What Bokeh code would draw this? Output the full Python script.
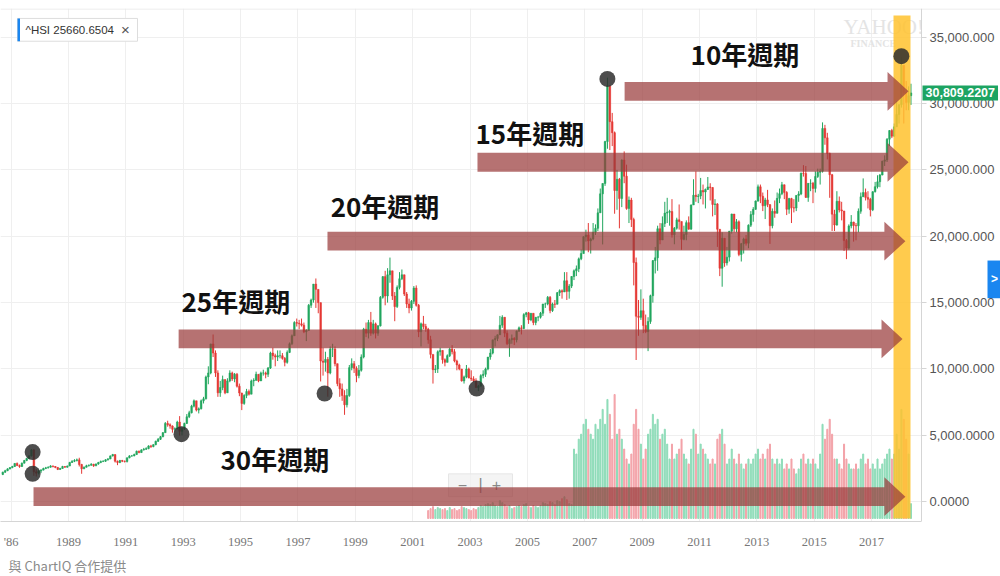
from bokeh.plotting import figure
from bokeh.models import Range1d, FixedTicker, Label, Title, ColumnDataSource
from bokeh.core.properties import value
from bokeh.embed import file_html
from bokeh.resources import INLINE

# ---------------- data (monthly Hang Seng Index) ----------------
first_year, first_month = 1986, 9
first_open = 2050
close = [
    2220, 2330, 2470, 2568,                                                   # 1986 Sep-Dec
    2650, 2880, 2720, 2650, 2900, 3100, 3250, 3450, 3900, 2250, 2150, 2302,   # 1987
    2380, 2500, 2550, 2600, 2690, 2650, 2580, 2430, 2500, 2650, 2600, 2687,   # 1988
    2950, 3050, 3100, 3150, 2800, 2480, 2600, 2700, 2750, 2820, 2700, 2837,   # 1989
    2950, 3030, 3050, 3150, 3220, 3450, 3550, 3050, 2950, 3100, 3050, 3025,   # 1990
    3300, 3450, 3450, 3550, 3800, 3700, 3900, 3950, 4000, 4200, 4150, 4297,   # 1991
    4550, 4700, 4900, 5200, 5900, 5800, 5700, 5450, 5500, 6000, 5300, 5512,   # 1992
    5900, 6400, 6700, 7200, 7600, 6900, 7000, 7600, 7750, 9400, 9700, 11888,  # 1993
    11200, 9700, 8200, 8600, 9200, 8200, 9100, 9700, 9250, 9600, 8700, 8191,  # 1994
    7400, 8000, 8300, 8100, 9100, 9150, 9600, 9100, 9700, 9700, 9600, 10073,  # 1995
    11200, 11000, 10900, 11000, 11000, 10800, 10500, 11250, 11900, 12500, 13500, 13451,  # 1996
    13400, 13300, 12800, 12900, 14800, 15200, 16400, 16000, 15000, 10600, 10500, 10723,  # 1997
    9700, 11500, 11500, 10400, 8900, 8500, 8000, 7300, 8000, 10100, 10400, 10049,        # 1998
    9500, 9900, 10900, 13000, 12700, 13500, 12700, 13400, 12700, 13250, 15400, 16962,    # 1999
    15500, 17100, 17400, 15500, 14700, 16150, 16800, 17100, 15650, 14900, 14600, 15096,  # 2000
    16100, 14800, 12800, 13400, 13200, 13000, 12200, 11100, 9950, 10000, 11300, 11397,   # 2001
    10700, 10500, 11000, 11500, 11300, 10600, 10300, 10000, 9100, 9400, 10000, 9321,     # 2002
    9250, 9100, 8600, 8700, 9500, 9600, 10000, 10900, 11200, 12200, 12300, 12576,        # 2003
    13300, 13900, 12700, 11900, 12200, 12300, 12200, 12850, 13100, 13050, 14100, 14230,  # 2004
    13700, 14200, 13500, 13900, 13900, 14200, 14900, 14900, 15400, 14400, 14900, 14876,  # 2005
    15750, 15900, 15800, 16650, 15850, 16250, 16970, 17400, 17550, 18300, 18700, 19965,  # 2006
    20100, 19650, 19800, 20300, 20600, 21770, 23200, 23980, 27140, 31350, 28640, 27810,  # 2007
    23450, 24300, 22850, 25750, 24530, 22100, 22730, 21260, 18020, 13970, 13890, 14390,  # 2008
    13280, 12810, 13580, 15520, 18170, 18380, 20570, 19720, 20960, 21750, 21820, 21870,  # 2009
    20120, 20610, 21240, 21110, 19770, 20130, 21030, 20540, 22360, 23100, 23000, 23040,  # 2010
    23450, 23340, 23530, 23720, 23680, 22400, 22440, 20530, 17590, 19860, 17990, 18430,  # 2011
    20390, 21680, 20560, 21090, 18630, 19440, 19800, 19480, 20840, 21640, 22030, 22660,  # 2012
    23730, 23020, 22300, 22740, 22390, 20800, 21880, 21730, 22860, 23210, 23880, 23310,  # 2013
    22040, 22840, 22150, 22130, 23080, 23190, 24760, 24740, 22930, 23990, 23990, 23610,  # 2014
    24510, 24820, 24900, 28130, 27420, 26250, 24640, 21670, 20850, 22640, 21990, 21910,  # 2015
    19680, 19110, 20780, 21070, 20820, 20790, 21890, 22980, 23300, 22930, 22790, 22000,  # 2016
    23360, 23740, 24110, 24620, 25660, 25760, 27320, 27970, 27550, 28250, 29180, 29920,  # 2017
    32890, 30840, 30090, 30600, 30809,                                                   # 2018 Jan-May
]
high = [
    2260, 2400, 2520, 2600,
    2700, 2900, 2950, 2800, 2950, 3150, 3300, 3500, 3950, 3968, 2450, 2400,
    2450, 2560, 2620, 2660, 2750, 2720, 2680, 2600, 2550, 2700, 2680, 2720,
    3000, 3120, 3200, 3250, 3310, 2850, 2650, 2780, 2800, 2900, 2850, 2880,
    3000, 3100, 3120, 3200, 3280, 3480, 3600, 3560, 3100, 3150, 3150, 3100,
    3330, 3500, 3520, 3620, 3850, 3850, 3950, 4050, 4100, 4250, 4280, 4330,
    4600, 4800, 4950, 5250, 6000, 6100, 5900, 5750, 5600, 6100, 6447, 5650,
    5950, 6600, 6850, 7300, 7700, 7550, 7100, 7700, 7900, 9500, 10200, 11900,
    12600, 11400, 9900, 9100, 9500, 9200, 9300, 9900, 9800, 9700, 9700, 8900,
    8200, 8100, 8500, 8450, 9200, 9300, 9800, 9600, 9800, 9950, 9800, 10150,
    11300, 11600, 11150, 11400, 11400, 11200, 10900, 11400, 12000, 12600, 13600, 13800,
    13700, 13800, 13500, 13000, 14900, 15300, 16400, 16820, 15900, 15000, 11600, 11300,
    10900, 11700, 11900, 11700, 10400, 9300, 8900, 8400, 8500, 10300, 10800, 10600,
    10200, 10300, 11100, 13100, 13500, 13700, 14300, 13700, 13500, 13300, 15500, 17000,
    17400, 17600, 18397, 17400, 15800, 16300, 17300, 17500, 17100, 15800, 15300, 15200,
    16250, 16300, 14900, 13500, 14000, 13400, 13100, 12500, 11100, 10300, 11400, 11600,
    11400, 10800, 11100, 11600, 11800, 11500, 10700, 10400, 10000, 9500, 10300, 10100,
    9900, 9450, 9300, 8800, 9600, 9900, 10100, 10900, 11500, 12200, 12500, 12600,
    14000, 14050, 13900, 12900, 12300, 12600, 12400, 12900, 13200, 13300, 14200, 14300,
    14300, 14200, 14100, 13900, 14000, 14300, 14900, 15000, 15500, 15500, 15000, 15200,
    15800, 16000, 16000, 17300, 17300, 16400, 17000, 17500, 17800, 18400, 19000, 20000,
    20500, 21000, 19900, 21000, 20900, 22100, 23600, 24000, 27200, 31958, 30100, 29300,
    27900, 25000, 24400, 25800, 26400, 25400, 23000, 22900, 21400, 18400, 15200, 16000,
    15300, 14100, 13900, 15600, 18200, 19200, 20800, 21000, 21500, 22600, 22900, 22000,
    22800, 20700, 21400, 22400, 21100, 20800, 21200, 21500, 22400, 24300, 24900, 23200,
    24400, 23900, 23600, 24468, 24000, 23700, 22800, 22500, 20300, 20300, 19800, 19200,
    20400, 21700, 21500, 21300, 21200, 19500, 19900, 20100, 20900, 21900, 22200, 22700,
    23900, 23900, 23300, 22900, 23500, 22400, 22100, 22700, 23300, 23600, 24100, 23900,
    23400, 22900, 22900, 22800, 23100, 23400, 24800, 25363, 25300, 24000, 24300, 24100,
    24900, 25100, 25100, 28588, 28400, 27800, 26300, 24700, 22000, 23400, 23000, 22600,
    21900, 19800, 20900, 21600, 21100, 21000, 22100, 23300, 24364, 23600, 23400, 22900,
    23400, 24100, 24600, 24700, 25700, 26100, 27400, 28000, 28100, 28500, 30199, 29950,
    33484, 32600, 31700, 31300, 31500,
]
low = [
    2000, 2170, 2300, 2430,
    2520, 2620, 2680, 2550, 2620, 2880, 3050, 3200, 3400, 1950, 1894, 2050,
    2150, 2350, 2450, 2500, 2560, 2580, 2520, 2380, 2400, 2480, 2550, 2560,
    2680, 2920, 2980, 3030, 2650, 2100, 2450, 2570, 2650, 2700, 2620, 2680,
    2780, 2900, 2980, 3000, 3100, 3200, 3400, 2950, 2750, 2900, 2980, 2950,
    2950, 3270, 3380, 3420, 3530, 3650, 3680, 3850, 3900, 3950, 4050, 4100,
    4250, 4500, 4650, 4850, 5200, 5650, 5500, 5200, 5300, 5450, 4978, 5000,
    5400, 5850, 6300, 6650, 7100, 6800, 6650, 6950, 7400, 7700, 8850, 9600,
    10900, 9400, 7900, 7900, 8400, 8100, 8200, 9000, 9100, 9000, 8600, 7950,
    6900, 7300, 7800, 8000, 8100, 8700, 9100, 9000, 9100, 9500, 9300, 9400,
    10000, 10700, 10200, 10600, 10800, 10700, 10200, 10400, 11200, 11800, 12500, 13200,
    13000, 13200, 12700, 12100, 12900, 14600, 15000, 14600, 14200, 9059, 9500, 9800,
    7909, 9600, 10900, 10200, 8700, 7900, 7600, 6544, 7100, 7900, 9900, 9700,
    9000, 9300, 9800, 10800, 12400, 12300, 12500, 12600, 12300, 12500, 13200, 15300,
    14800, 15000, 16500, 15200, 13600, 14600, 16000, 16700, 15500, 14600, 14200, 14400,
    14900, 14700, 12400, 11700, 13000, 12800, 11900, 10800, 8900, 9700, 9700, 11000,
    10400, 10200, 10500, 10900, 11100, 10500, 9900, 9900, 9050, 8900, 9300, 9300,
    9100, 9000, 8600, 8331, 8700, 9300, 9400, 9900, 10700, 11100, 11700, 12100,
    12600, 13100, 12400, 11800, 10917, 11900, 11800, 12000, 12800, 12600, 13000, 13900,
    13400, 13600, 13300, 13300, 13600, 13800, 14000, 14600, 14800, 14200, 14300, 14600,
    14900, 15500, 15300, 15800, 15200, 15300, 16100, 16700, 17000, 17300, 18200, 18700,
    19600, 18800, 18700, 19700, 20100, 20400, 21800, 19386, 23800, 26600, 26500, 26800,
    21700, 22000, 20600, 22200, 24000, 22000, 21000, 20700, 16300, 10676, 12500, 13700,
    12700, 12700, 11345, 13400, 15000, 17200, 17400, 19400, 20000, 20700, 21000, 20800,
    19900, 19400, 20500, 20500, 18985, 19700, 19700, 20500, 20500, 22500, 22600, 22500,
    22800, 22400, 22100, 23500, 22700, 21500, 21600, 19200, 16999, 16200, 17700, 17800,
    18100, 20200, 20300, 20300, 18500, 18100, 18700, 19300, 19100, 20700, 21100, 22000,
    22600, 22500, 21900, 21300, 22200, 19426, 20600, 21400, 21800, 22500, 23100, 22800,
    21600, 21700, 21000, 21800, 21900, 22600, 23100, 24500, 22900, 22600, 23400, 22500,
    23300, 24400, 23900, 24800, 26900, 25800, 22900, 20400, 20400, 20800, 21800, 21200,
    18900, 18278, 19000, 20600, 19600, 19700, 20300, 21700, 23000, 22700, 22100, 21500,
    21900, 23300, 23600, 23700, 24600, 25300, 25600, 26800, 27400, 27500, 28400, 28500,
    29700, 28500, 29500, 29500, 29900,
]
# monthly volume (relative units), from Jul 2001
volume_first_year, volume_first_month = 2001, 7
volume = [
    8, 10, 12, 9, 11, 10,                                   # 2001 Jul-Dec
    9, 10, 8, 11, 9, 10, 8, 9, 12, 11, 10, 9,               # 2002
    8, 10, 9, 11, 13, 12, 14, 15, 14, 16, 13, 12,           # 2003
    18, 16, 14, 12, 13, 10, 11, 12, 13, 12, 14, 15,         # 2004
    12, 11, 13, 12, 11, 13, 16, 15, 14, 17, 16, 14,         # 2005
    18, 17, 20, 22, 19, 15, 14, 70, 65, 80, 85, 95,         # 2006
    100, 90, 85, 80, 95, 90, 100, 110, 95, 120, 105, 80,    # 2007
    125, 85, 90, 80, 70, 60, 55, 65, 95, 110, 90, 75,       # 2008
    60, 70, 85, 90, 105, 95, 100, 80, 85, 90, 75, 60,       # 2009
    75, 60, 65, 70, 80, 65, 60, 55, 70, 90, 85, 65,         # 2010
    75, 70, 65, 60, 55, 60, 55, 80, 85, 90, 75, 55,         # 2011
    60, 70, 60, 55, 65, 55, 50, 55, 60, 55, 60, 65,         # 2012
    70, 60, 65, 60, 70, 75, 60, 55, 60, 55, 60, 50,         # 2013
    55, 50, 60, 50, 45, 50, 60, 65, 55, 60, 55, 60,         # 2014
    55, 50, 65, 95, 80, 90, 100, 85, 60, 60, 55, 50,        # 2015
    75, 60, 55, 50, 50, 55, 50, 60, 65, 55, 60, 50,         # 2016
    55, 50, 60, 50, 55, 60, 65, 70, 60, 65, 85, 70,         # 2017
    110, 100, 80, 65, 15,                                   # 2018 Jan-May
]
year_ticks = [1987, 1989, 1991, 1993, 1995, 1997, 1999, 2001, 2003, 2005, 2007, 2009, 2011, 2013, 2015, 2017]
year_tick_labels = ["'86"] + [str(y) for y in year_ticks[1:]]
price_ticks = [0, 5000, 10000, 15000, 20000, 25000, 30000, 35000]
price_tick_labels = ["0.0000", "5,000.0000", "10,000.000", "15,000.000", "20,000.000",
                     "25,000.000", "30,000.000", "35,000.000"]

# annotations
cycle_labels = ["10年週期", "15年週期", "20年週期", "25年週期", "30年週期"]
cycle_start = [2008.39, 2003.26, 1998.03, 1992.84, 1987.78]
cycle_tip = [2018.29, 2018.29, 2018.18, 2018.08, 2018.18]
cycle_level = [30925, 25578, 19632, 12265, 374]
cycle_text_x = [2010.69, 2003.19, 1998.14, 1992.94, 1994.30]
cycle_text_y = [33804, 27821, 22287, 15182, 3216]
turn_x = [1987.75, 1987.75, 1992.94, 1997.93, 2003.23, 2007.79, 2018.04]
turn_y = [3739, 2094, 5086, 8152, 8526, 31860, 33580]
last_price = 30809.2207

assert len(close) == len(high) == len(low)

# ---------------- derived ----------------
def month_axis(y, m, n):
    out = []
    for _ in range(n):
        out.append(y + (m - 0.5) / 12.0)
        m += 1
        if m > 12:
            m = 1
            y += 1
    return out

xs = month_axis(first_year, first_month, len(close))
opens = [first_open] + close[:-1]
UP, DOWN = "#22a65e", "#e53935"
VUP, VDOWN = "#8fdcb9", "#f3a3a9"
col = [UP if c >= o else DOWN for c, o in zip(close, opens)]
src = ColumnDataSource(dict(
    x=xs, top=[max(o, c) for o, c in zip(opens, close)],
    bottom=[min(o, c) for o, c in zip(opens, close)],
    hi=[max(h, o, c) for h, o, c in zip(high, opens, close)],
    lo=[min(l, o, c) for l, o, c in zip(low, opens, close)],
    color=col))

vx = month_axis(volume_first_year, volume_first_month, len(volume))
off = xs.index(min(xs, key=lambda t: abs(t - vx[0])))
vcol = [VUP if col[off + i] == UP else VDOWN for i in range(len(volume))]
vsrc = ColumnDataSource(dict(x=vx, top=volume, color=vcol))

# pixel scale helpers (for shape sizes / decoration placement only)
PX_X = 28.68        # px per year
PX_Y = 0.013371     # px per index point
Y_ZERO = 505.0

def px_x(px):
    return 1989 + (px - 68) / PX_X

def px_y(py):
    return (Y_ZERO - py) / PX_Y

X0, X1 = px_x(0), px_x(1000)
X_AXIS = px_x(921)
Y0, Y1 = px_y(525), px_y(8)

p = figure(width=1000, height=576, x_range=Range1d(X0, X1), y_range=Range1d(Y0, Y1),
           output_backend="svg", toolbar_location=None, y_axis_location="right",
           min_border_left=0, min_border_right=0, min_border_top=8, min_border_bottom=51)
p.extra_y_ranges = {"vol": Range1d(-3, 514)}
p.outline_line_color = None
p.background_fill_color = "white"
p.border_fill_color = "white"

# axes
p.xaxis.ticker = FixedTicker(ticks=year_ticks)
p.xaxis.major_label_overrides = {t: l for t, l in zip(year_ticks, year_tick_labels)}
p.xaxis.major_label_text_font = "Liberation Serif"
p.xaxis.major_label_text_font_size = "12.5px"
p.xaxis.major_label_text_color = "#777777"
p.xaxis.axis_line_color = "#d5d5d5"
p.xaxis.major_tick_line_color = None
p.xaxis.minor_tick_line_color = None
p.xaxis.major_label_standoff = 7
p.xaxis.bounds = (X0, X_AXIS)

p.yaxis.fixed_location = X_AXIS
p.yaxis.ticker = FixedTicker(ticks=price_ticks)
p.yaxis.major_label_overrides = {t: l for t, l in zip(price_ticks, price_tick_labels)}
p.yaxis.major_label_text_font = "Liberation Sans"
p.yaxis.major_label_text_font_size = "13px"
p.yaxis.major_label_text_color = "#555555"
p.yaxis.axis_line_color = "#d5d5d5"
p.yaxis.major_tick_line_color = "#d5d5d5"
p.yaxis.major_tick_out = 5
p.yaxis.major_tick_in = 0
p.yaxis.minor_tick_line_color = None
p.yaxis.major_label_standoff = 3

p.xgrid.grid_line_color = "#efefef"
p.ygrid.grid_line_color = "#efefef"

# plain area right of the price scale (hides grid lines there)
p.quad(left=[X_AXIS], right=[X1], bottom=[Y0], top=[Y1], fill_color="white", line_color=None)
# top rule of the chart panel
p.segment(x0=[X0], x1=[X1], y0=[px_y(8.5)], y1=[px_y(8.5)], line_color="#e6e6e6", line_width=1)

# watermark
p.text(x=[px_x(843)], y=[px_y(27)], text=["YAHOO!"],
       text_font=value("Liberation Serif"), text_font_size="21px", text_color="#e4e4e4",
       text_baseline="middle")
p.text(x=[px_x(850)], y=[px_y(43)], text=["FINANCE"],
       text_font=value("Liberation Serif"), text_font_size="10px", text_font_style="bold",
       text_color="#e4e4e4", text_baseline="middle")

# volume
p.vbar(x="x", top="top", bottom=0, width=0.036, color="color", source=vsrc, y_range_name="vol")

# candles
p.segment(x0="x", x1="x", y0="lo", y1="hi", color="color", line_width=1, source=src)
p.vbar(x="x", top="top", bottom="bottom", width=0.058, fill_color="color", line_color="color",
       line_width=0.5, source=src)

# zoom control
p.quad(left=[px_x(448)], right=[px_x(512)], bottom=[px_y(500)], top=[px_y(477)],
       fill_color="#f0f0f0", fill_alpha=0.75, line_color="#e6e6e6")
p.text(x=[px_x(462), px_x(480), px_x(496)], y=[px_y(488)] * 3, text=["−", "|", "+"],
       text_align="center", text_baseline="middle", text_color="#888888",
       text_font_size="16px", text_font=value("Liberation Sans"))

# highlight band
p.quad(left=[px_x(893)], right=[px_x(910)], bottom=[px_y(522)], top=[px_y(15)],
       fill_color="#ffc22e", fill_alpha=0.85, line_color=None)

# cycle arrows
BODY = 9.5 / PX_Y
HEAD = 19.5 / PX_Y
HEADLEN = 21 / PX_X
axs, ays = [], []
for x0, x1, yc in zip(cycle_start, cycle_tip, cycle_level):
    xb = x1 - HEADLEN
    axs.append([x0, xb, xb, x1, xb, xb, x0])
    ays.append([yc - BODY, yc - BODY, yc - HEAD, yc, yc + HEAD, yc + BODY, yc + BODY])
p.patches(xs=axs, ys=ays, fill_color="#9a3b3b", fill_alpha=0.72, line_color=None)

# turning points
p.scatter(x=turn_x, y=turn_y, size=16, fill_color="#2e2e2e", fill_alpha=0.85, line_color=None)

# cycle labels
p.text(x=cycle_text_x, y=cycle_text_y, text=cycle_labels, text_font=value("Noto Sans CJK TC"),
       text_font_style="bold", text_font_size="26px", text_color="#111111",
       text_baseline="middle")

# ticker box
p.quad(left=[px_x(17)], right=[px_x(137)], bottom=[px_y(41)], top=[px_y(18)],
       fill_color="white", line_color="#dddddd", line_width=1)
p.quad(left=[px_x(17)], right=[px_x(19.5)], bottom=[px_y(41)], top=[px_y(18)],
       fill_color="#1a86f0", line_color=None)
p.text(x=[px_x(25)], y=[px_y(29.5)], text=["^HSI 25660.6504"],
       text_font=value("Liberation Sans"), text_font_size="11.5px", text_color="#333333",
       text_baseline="middle")
p.text(x=[px_x(125)], y=[px_y(29.5)], text=["×"],
       text_font=value("Liberation Sans"), text_font_size="15px", text_color="#555555",
       text_baseline="middle", text_align="center")

# side tab
p.quad(left=[px_x(987)], right=[X1], bottom=[px_y(300)], top=[px_y(262)],
       fill_color="#1a86f0", line_color=None)
p.text(x=[px_x(994)], y=[px_y(281)], text=[">"], text_font=value("Liberation Sans"),
       text_font_size="12px", text_font_style="bold", text_color="white",
       text_baseline="middle", text_align="center")

# last price tag (drawn over the price scale)
p.add_layout(Label(x=px_x(922), y=last_price, text=f"{last_price:,.4f}",
                   text_font="Liberation Sans", text_font_size="12.5px", text_font_style="bold",
                   text_color="white", text_baseline="middle", background_fill_color="#1da462",
                   padding=3))

p.add_layout(Title(text="與 ChartIQ 合作提供", align="left", offset=8, text_font="Noto Sans CJK TC",
                   text_font_size="13px", text_font_style="normal", text_color="#8a8a8a",
                   standoff=4), "below")

open("out.html", "w").write(file_html(p, INLINE))
